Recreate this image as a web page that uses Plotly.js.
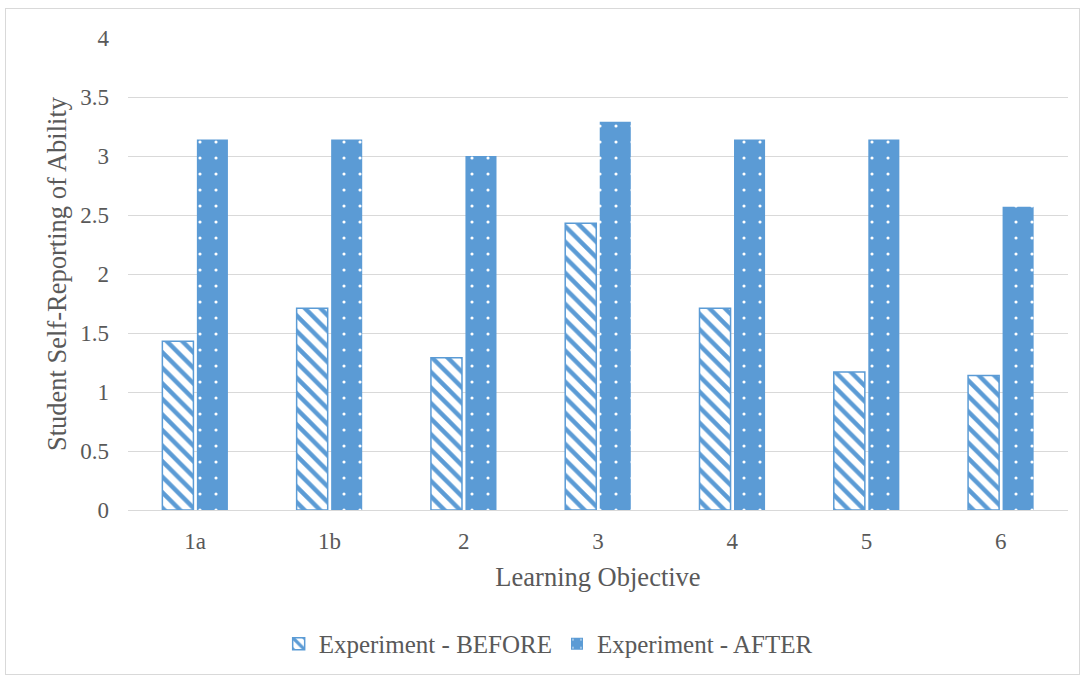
<!DOCTYPE html>
<html>
<head>
<meta charset="utf-8">
<script src="https://cdn.plot.ly/plotly-3.0.1.min.js"></script>
<style>
  html, body { margin: 0; padding: 0; background: #fff; }
  #chart { position: absolute; left: 0; top: 0; width: 1084px; height: 679px; }
  #frame { position: absolute; left: 5px; top: 8px; width: 1075px; height: 667px;
           box-sizing: border-box; border: 1px solid #d9d9d9; pointer-events: none; }
</style>
</head>
<body>
<div id="chart"></div>
<div id="frame"></div>
<script>
// Learning objectives and mean self-reported ability scores
const objectives = ["1a", "1b", "2", "3", "4", "5", "6"];
const before = [1.43, 1.71, 1.29, 2.43, 1.71, 1.17, 1.14];
const after = [3.14, 3.14, 3.00, 3.29, 3.14, 3.14, 2.57];
const yTicks = [0, 0.5, 1, 1.5, 2, 2.5, 3, 3.5, 4];
const yTickText = ["0", "0.5", "1", "1.5", "2", "2.5", "3", "3.5", "4"];

const blue = "#5b9bd5";
const textColor = "#595959";
const serif = "Liberation Serif";

const traces = [
  {
    type: "bar",
    name: "Experiment - BEFORE",
    x: objectives,
    y: before,
    marker: {
      color: "#ffffff",
      line: { color: blue, width: 1.5 },
      pattern: { shape: "\\", fgcolor: blue, bgcolor: "#ffffff", size: 11, solidity: 0.4 }
    },
    hoverinfo: "x+y"
  },
  {
    type: "bar",
    name: "Experiment - AFTER",
    x: objectives,
    y: after,
    marker: {
      color: blue,
      line: { color: blue, width: 0 },
      pattern: { shape: ".", fgcolor: "#ffffff", bgcolor: blue, size: 16, solidity: 0.03 }
    },
    hoverinfo: "x+y"
  }
];

const layout = {
  width: 1084,
  height: 679,
  margin: { l: 128, r: 16, t: 38, b: 167 },
  paper_bgcolor: "rgba(0,0,0,0)",
  plot_bgcolor: "#ffffff",
  barmode: "group",
  bargap: 0.486,
  bargroupgap: 0.1,
  font: { family: serif, color: textColor, size: 23 },
  showlegend: true,
  legend: {
    orientation: "h",
    x: 0.447, xanchor: "center",
    y: -0.235, yanchor: "top",
    font: { family: serif, size: 25, color: textColor },
    traceorder: "normal",
    itemwidth: 30
  },
  xaxis: {
    type: "category",
    showgrid: false,
    showline: true,
    linecolor: "#d9d9d9",
    linewidth: 1,
    ticks: "",
    ticklabelstandoff: 10,
    tickfont: { family: serif, size: 23, color: textColor },
    title: { text: "Learning Objective", font: { family: serif, size: 26.5, color: textColor }, standoff: 14 },
    fixedrange: true
  },
  yaxis: {
    range: [0, 4],
    tickvals: yTicks,
    ticktext: yTickText,
    showgrid: true,
    gridcolor: "#d9d9d9",
    gridwidth: 1,
    zeroline: true,
    zerolinecolor: "#d9d9d9",
    zerolinewidth: 1,
    showline: false,
    ticks: "",
    ticklabelstandoff: 18,
    tickfont: { family: serif, size: 23, color: textColor },
    title: { text: "Student Self-Reporting of Ability", font: { family: serif, size: 26.5, color: textColor }, standoff: 5 },
    fixedrange: true
  }
};

Plotly.newPlot("chart", traces, layout, { displayModeBar: false, staticPlot: true });
</script>
</body>
</html>
